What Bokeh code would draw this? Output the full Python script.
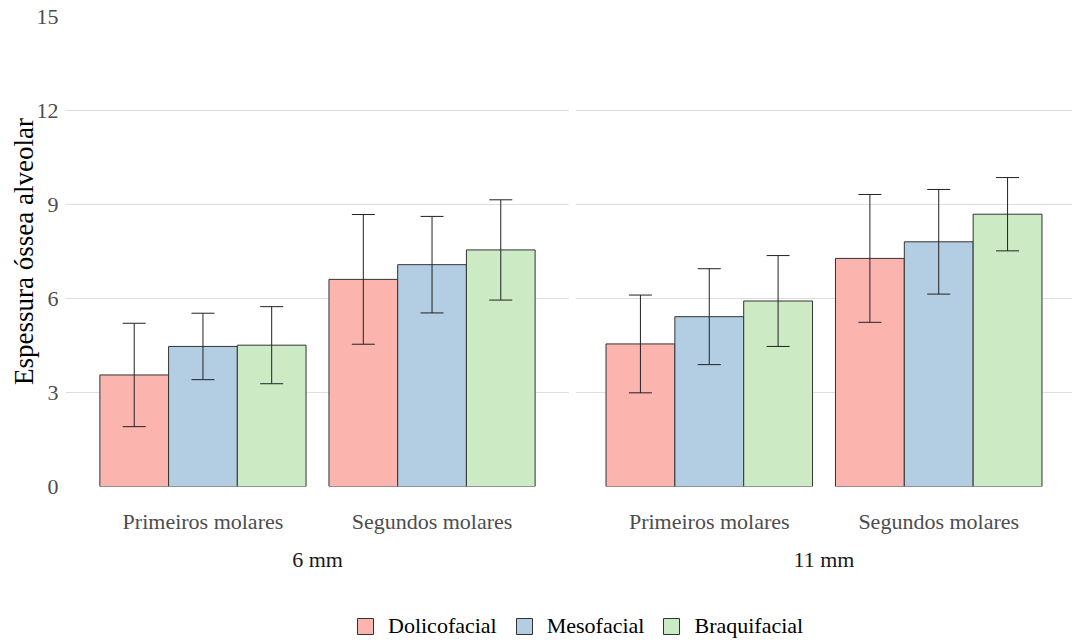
from bokeh.plotting import figure
from bokeh.models import (FactorRange, Range1d, ColumnDataSource, Whisker, TeeHead,
                          FixedTicker, Legend, LegendItem)
from bokeh.transform import dodge
from bokeh.layouts import column, row
from bokeh.embed import file_html
from bokeh.resources import INLINE

# ---------------- data ----------------
groups = ["Primeiros molares", "Segundos molares"]
series = ["Dolicofacial", "Mesofacial", "Braquifacial"]
facets = ["6 mm", "11 mm"]
colors = ["#FBB4AE", "#B3CDE3", "#CCEBC5"]

# 6 mm: means and standard deviations (Primeiros, Segundos)
dolico_6_mean = [3.56, 6.61]
dolico_6_sd = [1.65, 2.07]
meso_6_mean = [4.47, 7.08]
meso_6_sd = [1.06, 1.54]
braqui_6_mean = [4.51, 7.55]
braqui_6_sd = [1.23, 1.60]

# 11 mm
dolico_11_mean = [4.55, 7.28]
dolico_11_sd = [1.56, 2.04]
meso_11_mean = [5.42, 7.81]
meso_11_sd = [1.53, 1.67]
braqui_11_mean = [5.92, 8.69]
braqui_11_sd = [1.45, 1.17]

y_ticks = [0, 3, 6, 9, 12, 15]
y_label = "Espessura óssea alveolar"

facet_data = {
    "6 mm": [(dolico_6_mean, dolico_6_sd), (meso_6_mean, meso_6_sd), (braqui_6_mean, braqui_6_sd)],
    "11 mm": [(dolico_11_mean, dolico_11_sd), (meso_11_mean, meso_11_sd), (braqui_11_mean, braqui_11_sd)],
}

# ---------------- style ----------------
FONT = "Liberation Serif"
TICK_COLOR = "#4D4D4D"
GRID_COLOR = "#DEDEDE"
EDGE = "#333333"
ERR = "#222222"
offsets = [-0.3, 0.0, 0.3]
BAR_W = 0.3
PANEL_H = 590


def make_panel(facet, first, width, pad):
    kw = dict(width=width, height=PANEL_H,
              x_range=FactorRange(factors=groups, range_padding=pad),
              y_range=Range1d(0, 15), toolbar_location=None, output_backend="svg",
              min_border_top=16, min_border_right=0, min_border_bottom=104,
              min_border_left=(65 if first else 6))
    if not first:
        kw["y_axis_location"] = None
    p = figure(**kw)
    p.outline_line_color = None
    p.xgrid.grid_line_color = None
    p.ygrid.grid_line_color = GRID_COLOR
    p.ygrid.grid_line_width = 1
    p.ygrid.ticker = FixedTicker(ticks=y_ticks)

    for (mean, sd), name, col, off in zip(facet_data[facet], series, colors, offsets):
        src = ColumnDataSource(dict(
            group=groups, value=mean,
            lower=[m - s for m, s in zip(mean, sd)],
            upper=[m + s for m, s in zip(mean, sd)],
        ))
        p.vbar(x=dodge("group", off, range=p.x_range), top="value", bottom=0, width=BAR_W,
               source=src, fill_color=col, line_color=EDGE, line_width=1)
        w = Whisker(base=dodge("group", off, range=p.x_range), upper="upper", lower="lower",
                    source=src, line_color=ERR, line_width=1, level="annotation",
                    upper_head=TeeHead(size=23, line_color=ERR, line_width=1),
                    lower_head=TeeHead(size=23, line_color=ERR, line_width=1))
        p.add_layout(w)

    xa = p.xaxis[0]
    xa.axis_line_color = None
    xa.major_tick_line_color = None
    xa.major_tick_out = 0
    xa.major_tick_in = 0
    xa.minor_tick_line_color = None
    xa.major_label_text_font = FONT
    xa.major_label_text_font_size = "22px"
    xa.major_label_text_color = TICK_COLOR
    xa.major_label_standoff = 22
    xa.axis_label = facet
    xa.axis_label_text_font = FONT
    xa.axis_label_text_font_size = "22px"
    xa.axis_label_text_font_style = "normal"
    xa.axis_label_text_color = "#1A1A1A"
    xa.axis_label_standoff = 10

    if first:
        ya = p.yaxis[0]
        ya.ticker = FixedTicker(ticks=y_ticks)
        ya.axis_line_color = None
        ya.major_tick_line_color = None
        ya.minor_tick_line_color = None
        ya.major_tick_out = 0
        ya.major_tick_in = 0
        ya.major_label_text_font = FONT
        ya.major_label_text_font_size = "22px"
        ya.major_label_text_color = TICK_COLOR
        ya.major_label_standoff = 7
        ya.axis_label = y_label
        ya.axis_label_text_font = FONT
        ya.axis_label_text_font_size = "27px"
        ya.axis_label_text_font_style = "normal"
        ya.axis_label_text_color = "#000000"
        ya.axis_label_standoff = -5
    return p


p1 = make_panel("6 mm", True, 569, 0.1)
p2 = make_panel("11 mm", False, 503, 0.083)

# ---------------- legend ----------------
leg = figure(width=1072, height=642 - PANEL_H, toolbar_location=None, output_backend="svg",
             x_range=Range1d(0, 1), y_range=Range1d(0, 1),
             x_axis_location=None, y_axis_location=None, min_border=0)
leg.outline_line_color = None
leg.grid.visible = False
# off-screen proxy glyphs, used only to draw the legend keys
proxy = ColumnDataSource(dict(x=[-10.0], top=[-10.0]))
items = []
for name, col in zip(series, colors):
    r = leg.vbar(x="x", top="top", bottom=-11, width=0.3, source=proxy,
                 fill_color=col, line_color=EDGE, line_width=1)
    items.append(LegendItem(label=name, renderers=[r]))
legend = Legend(items=items, orientation="horizontal", location=(355, 3),
                border_line_color=None, background_fill_alpha=0, padding=0, margin=0,
                spacing=17, label_standoff=13, glyph_width=20, glyph_height=20,
                label_text_font=FONT, label_text_font_size="22px", label_text_color="#000000")
leg.add_layout(legend)

layout = column(row(p1, p2), leg)

open("out.html", "w").write(file_html(layout, INLINE))
